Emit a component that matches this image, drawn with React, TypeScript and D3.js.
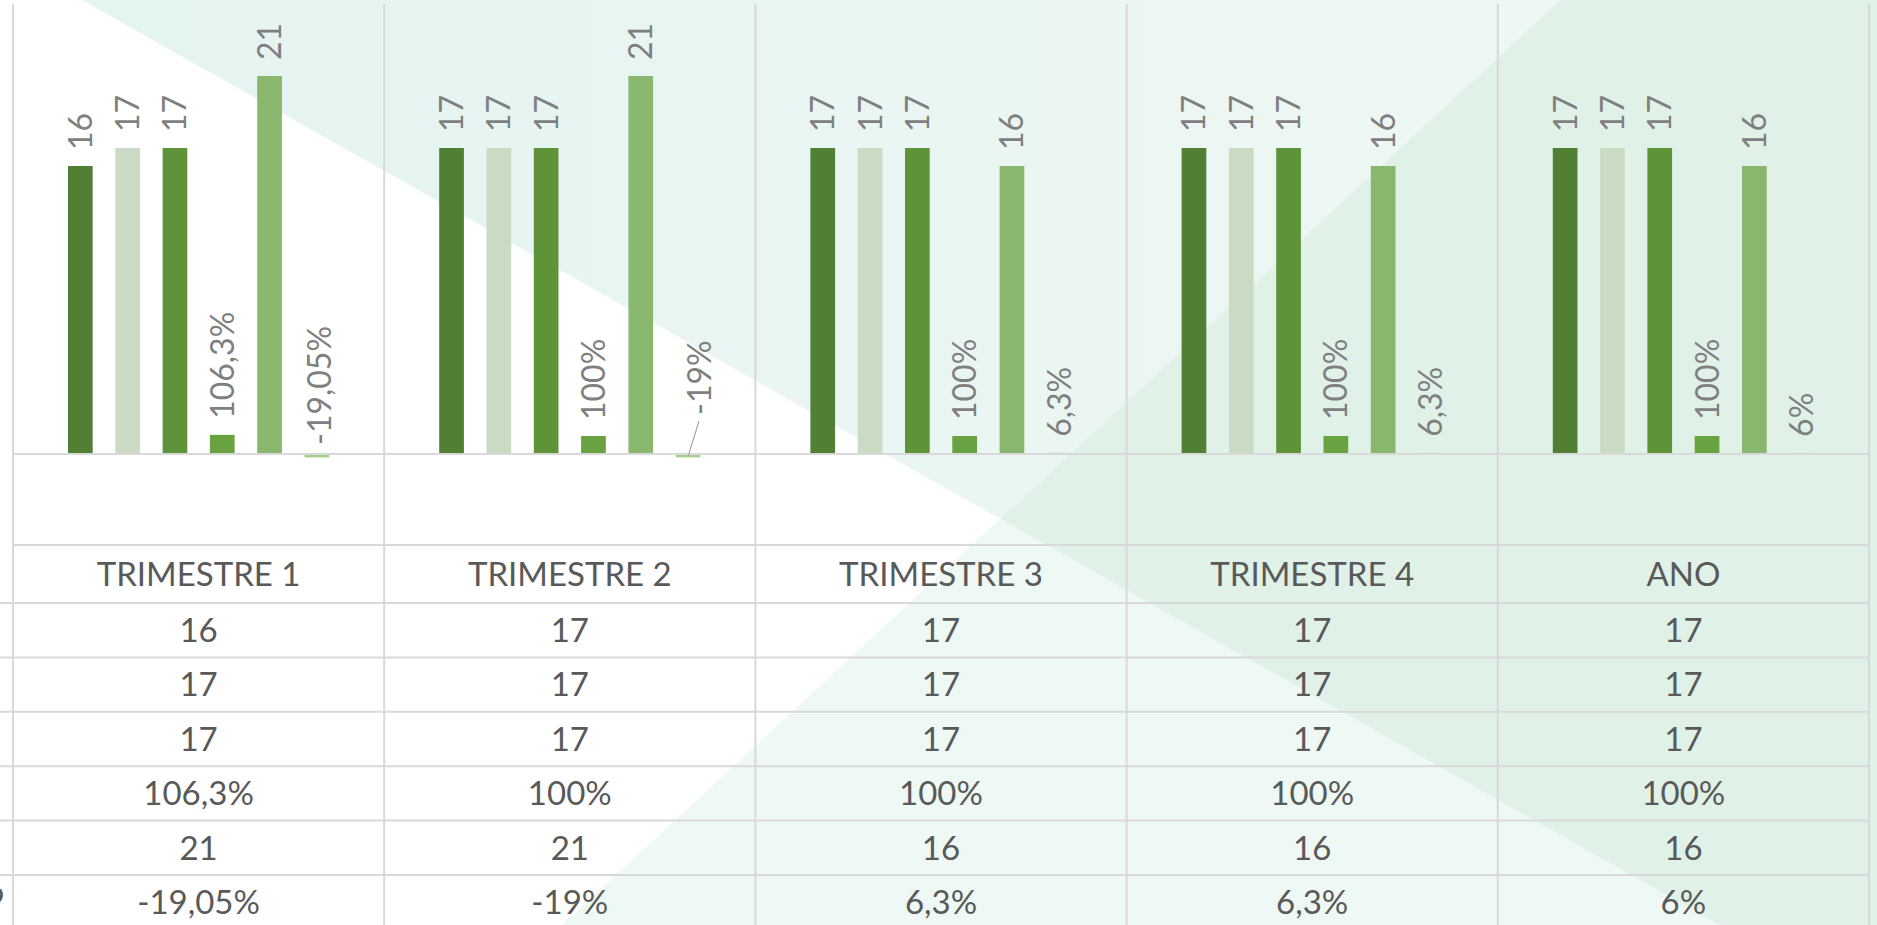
import React, { useEffect } from 'react';
import * as d3 from 'd3';

// ---------- data ----------
const categories = ['TRIMESTRE 1', 'TRIMESTRE 2', 'TRIMESTRE 3', 'TRIMESTRE 4', 'ANO'];
const serie1 = [16, 17, 17, 17, 17];
const serie2 = [17, 17, 17, 17, 17];
const serie3 = [17, 17, 17, 17, 17];
const serie4 = [1.063, 1, 1, 1, 1];
const serie5 = [21, 21, 16, 16, 16];
const serie6 = [-0.1905, -0.19, 0.063, 0.063, 0.06];
const serie1Labels = ['16', '17', '17', '17', '17'];
const serie2Labels = ['17', '17', '17', '17', '17'];
const serie3Labels = ['17', '17', '17', '17', '17'];
const serie4Labels = ['106,3%', '100%', '100%', '100%', '100%'];
const serie5Labels = ['21', '21', '16', '16', '16'];
const serie6Labels = ['-19,05%', '-19%', '6,3%', '6,3%', '6%'];
const lastLegendText = 'VARIAÇÃO 2019';

const seriesValues = [serie1, serie2, serie3, serie4, serie5, serie6];
const seriesLabels = [serie1Labels, serie2Labels, serie3Labels, serie4Labels, serie5Labels, serie6Labels];
const seriesColors = ['#517f33', '#c9dcc3', '#5f933a', '#69a341', '#88b76d', '#a8d08d'];

// manual nudges of the last series' labels (as in the source)
const lastLabelNudge = [
  { dx: 3, dy: 7, leader: false },
  { dx: 11, dy: -23, leader: true },
  { dx: 0, dy: 0, leader: false },
  { dx: 0, dy: 0, leader: false },
  { dx: 0, dy: 0, leader: false },
];

const W = 1877;
const H = 925;
const FONT = 'Lato, "Open Sans", sans-serif';
const GRID = '#d9d9d9';

export default function App() {
  useEffect(() => {
    document.body.style.margin = '0';
    document.body.style.overflow = 'hidden';
  }, []);

  const x = d3.scaleBand<string>().domain(categories).range([13, 1869]).padding(0);
  const bw = x.bandwidth();
  const inner = d3.scaleBand<number>().domain(d3.range(6)).range([55, bw - 55]).paddingInner(0.478).paddingOuter(0);
  const y = d3.scaleLinear().domain([-5, 25]).range([544, 4]);

  const headerTop = y(-5) + 1;
  const headerBottom = 603;
  const rowH = 54.4;
  const tableRows = seriesLabels;
  const rowTops = tableRows.map((_, i) => headerBottom + i * rowH);

  // background diagonals
  const descA = [82, 0];
  const descB = [1719, 925];
  const ascA = [1560, 0];
  const ascB = [562, 925];
  const sD = (descB[1] - descA[1]) / (descB[0] - descA[0]);
  const sA = (ascB[1] - ascA[1]) / (ascB[0] - ascA[0]);
  const px = (ascA[1] - descA[1] + sD * descA[0] - sA * ascA[0]) / (sD - sA);
  const py = descA[1] + sD * (px - descA[0]);

  const lfs = 32; // label font size
  const tfs = 33; // table font size

  return (
    <svg width={W} height={H} style={{ position: 'absolute', left: 0, top: 0, display: 'block' }}>
      <defs>
        <linearGradient id="gA" x1="0" y1="0" x2="1" y2="0">
          <stop offset="0%" stopColor="#e4f4f1" />
          <stop offset="100%" stopColor="#eef7f3" />
        </linearGradient>
      </defs>
      <rect x={0} y={0} width={W} height={H} fill="#ffffff" />
      <polygon points={`${descA[0]},0 ${ascA[0]},0 ${px},${py}`} fill="url(#gA)" />
      <polygon points={`${ascA[0]},0 ${W},0 ${W},${H} ${descB[0]},${H} ${px},${py}`} fill="#e0f1e8" />
      <polygon points={`${px},${py} ${descB[0]},${H} ${ascB[0]},${H}`} fill="#eef8f4" />

      {/* vertical grid lines */}
      {categories.map((c) => (
        <line key={'v' + c} x1={x(c)} x2={x(c)} y1={4} y2={H} stroke={GRID} strokeWidth={2} />
      ))}
      <line x1={1869} x2={1869} y1={4} y2={H} stroke={GRID} strokeWidth={2} />

      {/* table lines */}
      <line x1={13} x2={1869} y1={headerTop} y2={headerTop} stroke={GRID} strokeWidth={2} />
      {rowTops.map((t, i) => (
        <line key={'h' + i} x1={0} x2={1869} y1={t} y2={t} stroke={GRID} strokeWidth={2} />
      ))}

      {/* bars */}
      {categories.map((c, ci) => (
        <g key={'g' + c} transform={`translate(${x(c)},0)`}>
          {seriesValues.map((vals, si) => {
            const v = vals[ci];
            const y0 = y(Math.max(0, v));
            const y1 = y(Math.min(0, v));
            return (
              <rect
                key={si}
                x={inner(si)}
                y={y0}
                width={inner.bandwidth()}
                height={y1 - y0}
                fill={seriesColors[si]}
              />
            );
          })}
        </g>
      ))}

      {/* zero axis (over the bars) */}
      <line x1={13} x2={1869} y1={y(0)} y2={y(0)} stroke={GRID} strokeWidth={2} />

      {/* data labels */}
      {categories.map((c, ci) =>
        seriesValues.map((vals, si) => {
          const v = vals[ci];
          const cx = (x(c) as number) + (inner(si) as number) + inner.bandwidth() / 2;
          let ax = cx + lfs * 0.36;
          let ay = Math.min(y(v), y(0)) - 16;
          let leader = null;
          if (si === 5) {
            const n = lastLabelNudge[ci];
            ax += n.dx;
            ay += n.dy;
            if (n.leader) {
              leader = (
                <line x1={cx + n.dx} y1={ay + 6} x2={cx} y2={y(v) - 1} stroke="#a6a6a6" strokeWidth={1.2} />
              );
            }
          }
          return (
            <g key={`l${ci}-${si}`}>
              {leader}
              <text
                transform={`translate(${ax},${ay}) rotate(-90)`}
                fontFamily={FONT}
                fontSize={lfs}
                fill="#7f7f7f"
                textAnchor="start"
              >
                {seriesLabels[si][ci]}
              </text>
            </g>
          );
        })
      )}

      {/* table header */}
      {categories.map((c) => (
        <text
          key={'th' + c}
          x={(x(c) as number) + bw / 2}
          y={(headerTop + headerBottom) / 2 + tfs * 0.355}
          textAnchor="middle"
          fontFamily={FONT}
          fontSize={tfs}
          fill="#595959"
        >
          {c}
        </text>
      ))}

      {/* table body */}
      {tableRows.map((row, ri) =>
        categories.map((c, ci) => (
          <text
            key={`td${ri}-${ci}`}
            x={(x(c) as number) + bw / 2}
            y={rowTops[ri] + rowH / 2 + tfs * 0.355}
            textAnchor="middle"
            fontFamily={FONT}
            fontSize={tfs}
            fill="#595959"
          >
            {row[ci]}
          </text>
        ))
      )}

      {/* clipped legend text of the last row */}
      <text
        x={5}
        y={rowTops[5] + rowH / 2 + tfs * 0.355 - 3}
        textAnchor="end"
        fontFamily={FONT}
        fontSize={tfs}
        fill="#595959"
      >
        {lastLegendText}
      </text>
    </svg>
  );
}
